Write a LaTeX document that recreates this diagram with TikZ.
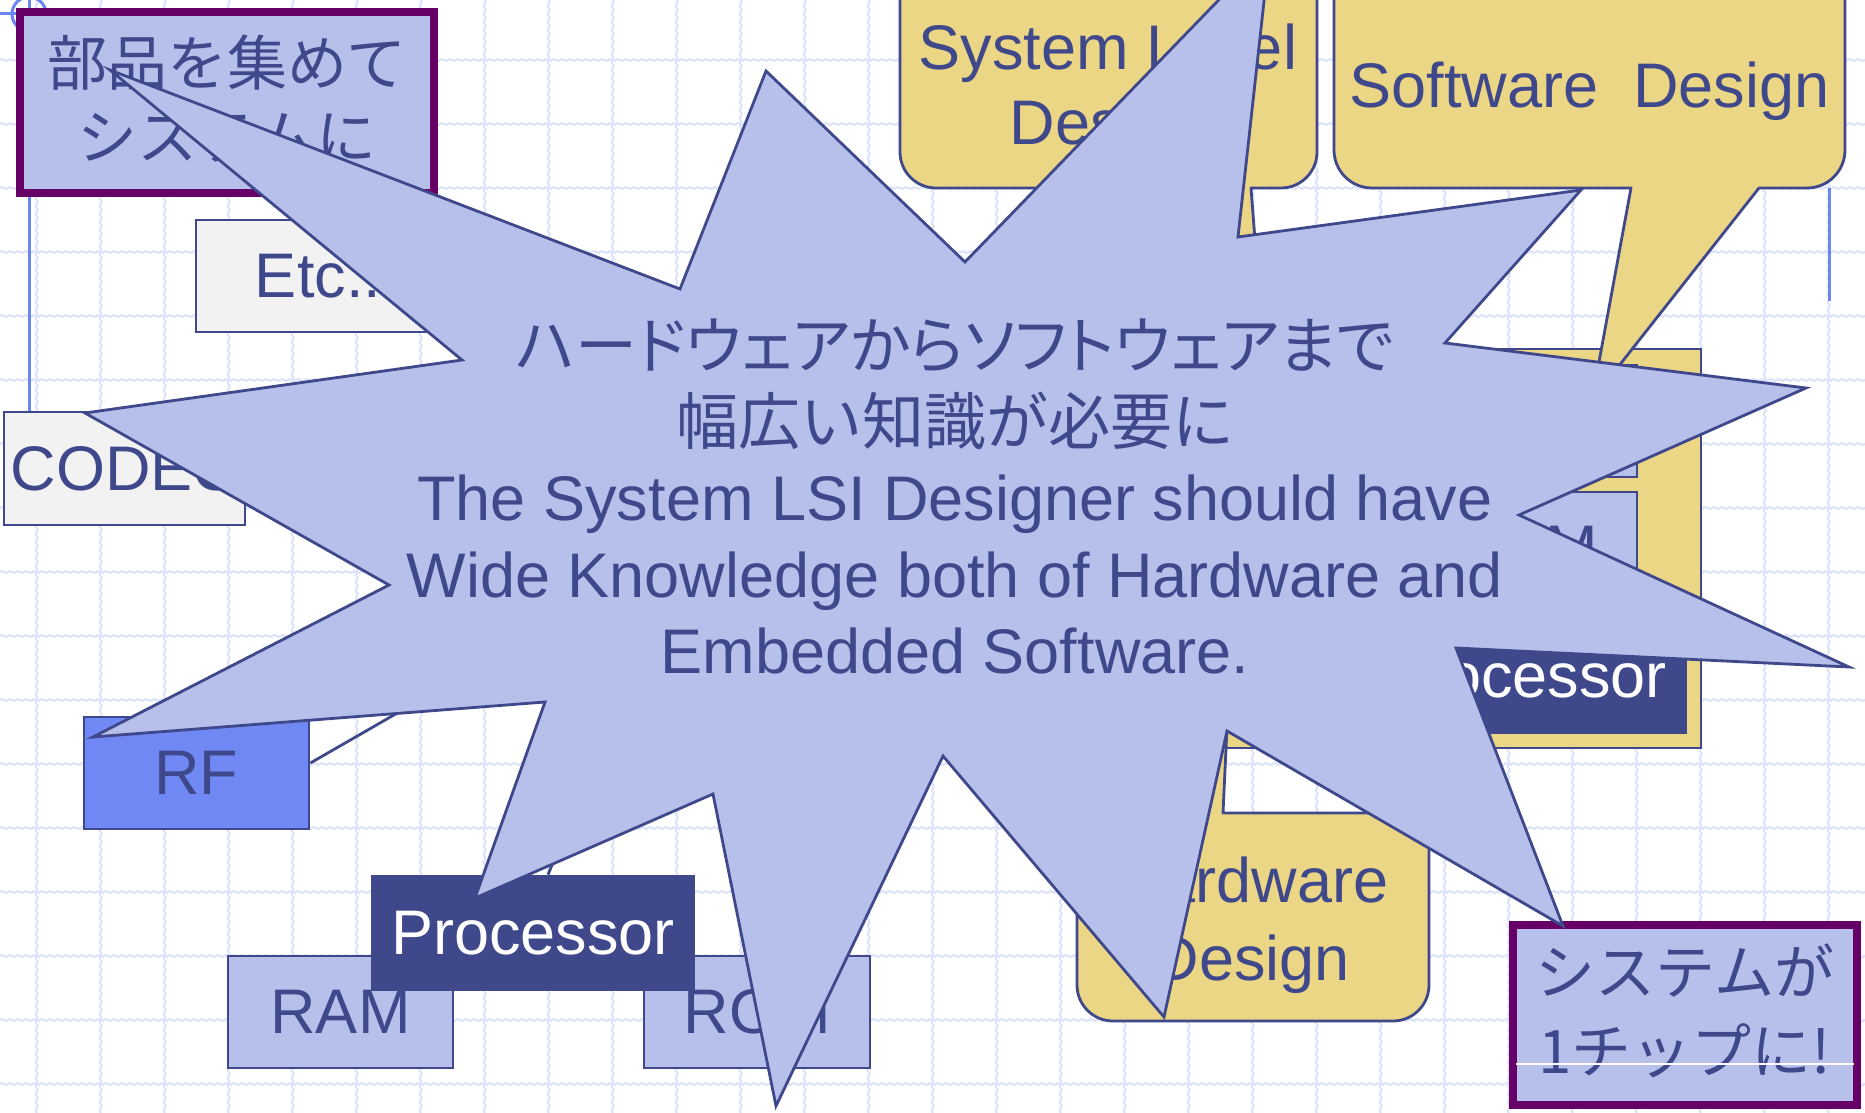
\documentclass[tikz,border=0pt]{standalone}
\usepackage{fontspec}
\setmainfont{Liberation Sans}
\newfontfamily\cjk{Noto Sans CJK JP}
\newfontfamily\cjkp{Noto Sans CJK JP}[RawFeature=+palt]
\usetikzlibrary{calc,decorations.pathmorphing}

\definecolor{ink}{HTML}{40488C}
\definecolor{lav}{HTML}{B6C0EA}
\definecolor{gold}{HTML}{EAD685}
\definecolor{rfblue}{HTML}{6F88F3}
\definecolor{plum}{HTML}{660066}
\definecolor{paper}{HTML}{F2F2F2}
\definecolor{guide}{HTML}{6B86F0}
\definecolor{gridc}{HTML}{DDE4FA}

\begin{document}
\begin{tikzpicture}[x=0.5pt,y=-0.5pt,
  wh/.style 2 args={minimum width=#1*0.5pt,minimum height=#2*0.5pt},
  part/.style={draw=ink,line width=1.4pt,inner sep=0pt,text=ink,
    font=\fontsize{31.5}{38}\selectfont},
  plumbox/.style={draw=plum,line width=4pt,fill=lav,inner sep=0pt},
  lbl/.style={text=ink,inner sep=0pt,anchor=base,font=\fontsize{31.5}{38}\selectfont},
  jp/.style={text=ink,inner sep=0pt,anchor=base,font=\cjk\fontsize{30}{36}\selectfont},
  balloon/.style={fill=gold,draw=ink,line width=1.4pt,line join=round},
  burst/.style={fill=lav,draw=ink,line width=1.4pt,line join=miter},
  gridline/.style={draw=gridc,line width=1.1pt,decorate,
    decoration={snake,segment length=4pt,amplitude=0.45pt}},
  guideline/.style={draw=guide,line width=1.5pt},
  wire/.style={draw=ink,line width=1.4pt}]

% page and background grid
\useasboundingbox (0,0) rectangle (1865,1113);
\fill[white] (0,0) rectangle (1865,1113);
\foreach \k in {0,...,28} {\draw[gridline] ({36.7+64*\k},0) -- ({36.7+64*\k},1113);}
\foreach \k in {0,...,16} {\draw[gridline] (0,{60+64*\k}) -- (1865,{60+64*\k});}

% crosshair mark in the top left corner
\coordinate (mark) at (29,14);
\draw[guideline] (mark) circle[radius=17];
\draw[guideline] (0,14) -- (46,14);

% separate parts on the left
\node[part,fill=paper,wh={241}{113}] (codec) at (124.5,468.5) {CODEC};
\node[part,fill=paper,wh={244}{112}] (etc) at (318,276) {Etc..};
\node[part,fill=rfblue,wh={225}{112}] (rf) at (196.5,773) {RF};
\node[part,fill=lav,wh={225}{112}] (ram) at (340.5,1012) {RAM};
\node[part,fill=lav,wh={226}{112}] (rom) at (757,1012) {ROM};
\node[part,fill=ink,text=white,wh={322}{114}] (cpu) at (533,933) {Processor};

\coordinate (gtop) at (29,0);
\draw[guideline] (gtop) -- (gtop |- codec.north);

% wires towards the shared bus
\coordinate (hub) at (686,547);
\draw[wire] ($(rf.east)+(0,-10)$) -- (hub);
\draw[wire] ($(cpu.north)+(15,0)$) -- (hub);

% title box, top left
\node[plumbox,wh={414}{181}] (collect) at (227,102.5) {};
\node[jp] (collectA) at (227,86) {部品を集めて};
\node[jp] (collectB) at (227,160) {システムに};

% the integrated chip on the right
\node[part,fill=gold,wh={521}{399}] (chip) at (1440.5,548.5) {};
\node[part,fill=lav,wh={226}{112}] (chipram) at (1524,421) {};
\node[part,fill=lav,wh={226}{112}] (chiprom) at (1524,548) {ROM};
\node[part,fill=ink,text=white,wh={322}{114}] (chipcpu) at (1525,676) {Processor};

% design balloons
\coordinate (sltip) at (1262,330);
\draw[balloon] (1160,188) -- (sltip) -- (1251,188) -- (1281,188)
  arc[start angle=90,end angle=0,radius=36] -- (1317,-100) -- (900,-100)
  -- (900,152) arc[start angle=180,end angle=90,radius=36] -- cycle;
\node[lbl] (slA) at (1108,70) {System Level};
\node[lbl] (slB) at (1108,145) {Design};

\coordinate (swtip) at (1592,400);
\draw[balloon] (1631,188) -- (swtip) -- (1759,188) -- (1807,188)
  arc[start angle=90,end angle=0,radius=38] -- (1845,-100) -- (1334,-100)
  -- (1334,150) arc[start angle=180,end angle=90,radius=38] -- cycle;
\node[lbl] (sw) at (1589.5,108) {Software\ \ Design};

\coordinate (hwtip) at (1232,620);
\draw[balloon] (1223,813) -- (1393,813) arc[start angle=-90,end angle=0,radius=36]
  -- (1429,985) arc[start angle=0,end angle=90,radius=36]
  -- (1113,1021) arc[start angle=90,end angle=180,radius=36]
  -- (1077,849) arc[start angle=180,end angle=270,radius=36]
  -- (1140,813) -- (hwtip) -- cycle;
\node[lbl] (hwA) at (1252,902) {Hardware};
\node[lbl] (hwB) at (1252,980) {Design};

% right guide line
\coordinate (gright) at (1829,188);
\draw[guideline] (gright) -- (1829,301);

% result box, bottom right
\node[plumbox,wh={344}{180}] (onechip) at (1685,1015) {};
\node[jp] (onechipA) at (1685,994) {システムが};
\node[jp] (onechipB) at (1685,1073) {1チップに!};
\draw[white,line width=0.7pt] (1516,1064) -- (1854,1064);

% explosion with the message
\draw[burst] (110,70) -- (680,289) -- (766,71) -- (965,262) -- (1270,-53)
  -- (1238,237) -- (1581,190) -- (1445,343) -- (1806,388) -- (1519,515)
  -- (1849,667) -- (1456,648) -- (1563,926) -- (1227,731) -- (1164,1017)
  -- (943,756) -- (776,1106) -- (713,794) -- (475,898) -- (545,702)
  -- (93,737) -- (389,585) -- (85,413) -- (462,360) -- cycle;
\node[jp,font=\cjkp\fontsize{31}{37}\selectfont] (msgA) at (955,368) {ハードウェアからソフトウェアまで};
\node[jp,font=\cjk\fontsize{31}{37}\selectfont] (msgB) at (955,444) {幅広い知識が必要に};
\node[lbl] (msgC) at (955,520) {The System LSI Designer should have};
\node[lbl] (msgD) at (955,597) {Wide Knowledge both of Hardware and};
\node[lbl] (msgE) at (955,673) {Embedded Software.};
\end{tikzpicture}
\end{document}
